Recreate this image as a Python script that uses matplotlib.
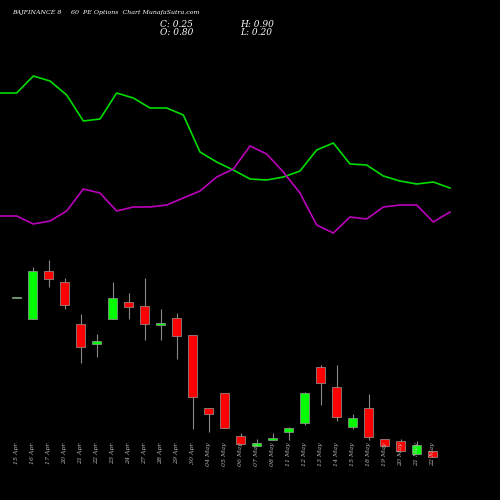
import matplotlib
matplotlib.use("Agg")
import matplotlib.pyplot as plt

dates = ["15 Apr","16 Apr","17 Apr","20 Apr","21 Apr","22 Apr","23 Apr","24 Apr","27 Apr","28 Apr","29 Apr","30 Apr",
         "04 May","05 May","06 May","07 May","08 May","11 May","12 May","13 May","14 May","15 May","18 May","19 May",
         "20 May","21 May","22 May"]
opens  = [1.72,1.51,1.99,1.88,1.46,1.26,1.51,1.68,1.64,1.45,1.52,1.35,0.62,0.77,0.34,0.24,0.30,0.38,0.47,1.03,0.83,0.43,0.62,0.31,0.29,0.16,0.19]
closes = [1.72,1.99,1.91,1.65,1.23,1.29,1.72,1.63,1.46,1.47,1.34,0.73,0.56,0.42,0.26,0.27,0.32,0.42,0.77,0.87,0.53,0.52,0.33,0.24,0.19,0.25,0.13]
highs  = [1.72,2.03,2.10,1.92,1.56,1.36,1.88,1.77,1.92,1.61,1.57,1.35,0.62,0.77,0.37,0.31,0.37,0.43,0.78,1.05,1.05,0.56,0.76,0.31,0.31,0.29,0.19]
lows   = [1.72,1.51,1.83,1.61,1.07,1.13,1.51,1.51,1.30,1.30,1.11,0.41,0.38,0.42,0.26,0.24,0.30,0.30,0.45,0.65,0.49,0.41,0.30,0.23,0.19,0.16,0.13]

green_line = [157,157,174,169,155,129,131,157,152,142,142,135,98,88,80,71,70,73,79,100,107,86,85,74,69,66,68,62]
magenta_line = [34,34,26,29,39,61,57,39,43,43,45,52,59,73,81,104,96,78,57,25,17,33,31,43,45,45,28,38]

fig = plt.figure(figsize=(5,5), dpi=100, facecolor="black")

# line panel
axl = fig.add_axes([0,0,1,1], facecolor="none")
axl.set_xlim(0, 30)
axl.set_ylim(-250, 250)
axl.axis("off")
xs = list(range(len(green_line)))
axl.plot(xs, green_line, color="#00dd00", lw=1.2)
axl.plot(xs, magenta_line, color="#bb00bb", lw=1.2)

# candle panel
ax = fig.add_axes([0,0,1,1], facecolor="none")
ax.set_xlim(-16.5/16, (500-16.5)/16)
ax.set_ylim(-0.3, 4.7)
ax.axis("off")
for i,(o,c,h,l) in enumerate(zip(opens,closes,highs,lows)):
    col = "#00ff00" if c >= o else "#ff0000"
    ax.vlines(i, l, h, color="#888888", lw=0.8, zorder=1)
    bot = min(o,c); ht = max(abs(c-o), 0.012)
    ax.bar(i, ht, bottom=bot, width=0.56, color=col, edgecolor="#999999", lw=0.5, zorder=2)
    ax.text(i, 0.28, dates[i], rotation=90, ha="center", va="top", color="#bbbbbb",
            fontsize=4.5, family="DejaVu Serif", style="italic")

tk = dict(color="white", family="DejaVu Serif", style="italic", transform=fig.transFigure)
fig.text(0.024, 0.972, "BAJFINANCE 8", fontsize=4.5, **tk)
fig.text(0.142, 0.972, "60  PE Options  Chart MunafaSutra.com", fontsize=4.5, **tk)
fig.text(0.32, 0.946, "C: 0.25", fontsize=6.5, **tk)
fig.text(0.32, 0.93, "O: 0.80", fontsize=6.5, **tk)
fig.text(0.48, 0.946, "H: 0.90", fontsize=6.5, **tk)
fig.text(0.48, 0.93, "L: 0.20", fontsize=6.5, **tk)

fig.savefig("out.png", dpi=100, facecolor="black")
